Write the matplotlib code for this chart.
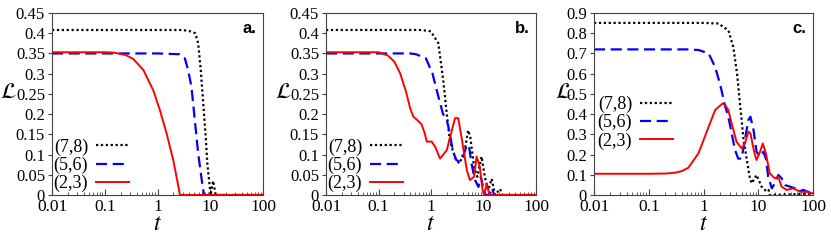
import matplotlib
matplotlib.use("Agg")
import matplotlib.pyplot as plt
from matplotlib.ticker import LogLocator, FixedLocator, NullFormatter

plt.rcParams['font.family'] = ['Liberation Serif', 'DejaVu Serif']
plt.rcParams['mathtext.fontset'] = 'stix'

# ---------------- data ----------------
labels = ["(7,8)", "(5,6)", "(2,3)"]

# panel a
a78_t = [0.01, 1.0, 3.0, 4.1, 5.2, 5.9, 6.6, 7.4, 8.2, 8.8, 9.6, 10.2, 11.3, 12.7, 100]
a78_L = [0.408, 0.408, 0.408, 0.405, 0.40, 0.375, 0.31, 0.223, 0.144, 0.078, 0.03, 0.0, 0.035, 0.0, 0.0]
a56_t = [0.01, 1.0, 2.6, 3.3, 3.8, 4.4, 5.1, 5.9, 6.9, 7.6, 100]
a56_L = [0.350, 0.350, 0.348, 0.338, 0.309, 0.268, 0.185, 0.103, 0.037, 0.0, 0.0]
a23_t = [0.01, 0.1, 0.15, 0.25, 0.35, 0.54, 0.83, 1.11, 1.49, 1.99, 2.5, 2.66, 100]
a23_L = [0.353, 0.353, 0.352, 0.346, 0.336, 0.309, 0.259, 0.21, 0.152, 0.086, 0.02, 0.0, 0.0]

# panel b
b78_t = [0.01, 0.6, 0.9, 1.0, 1.38, 1.71, 2.0, 2.28, 2.6, 3.0, 3.5, 4.4, 5.1, 5.6, 6.6,
         7.6, 9.2, 10.6, 12.3, 14.3, 16.6, 20.6, 23, 100]
b78_L = [0.408, 0.408, 0.406, 0.404, 0.375, 0.284, 0.2, 0.136, 0.11, 0.087, 0.078, 0.111,
         0.16, 0.143, 0.07, 0.045, 0.095, 0.045, 0.012, 0.04, 0.0, 0.015, 0.0, 0.0]
b56_t = [0.01, 0.4, 0.52, 0.8, 1.07, 1.19, 1.49, 1.7, 2.0, 2.28, 2.6, 3.0, 3.5, 4.1, 4.8,
         5.3, 5.9, 6.9, 8.0, 8.9, 9.8, 11.0, 13, 14.5, 16, 100]
b56_L = [0.350, 0.350, 0.348, 0.338, 0.30, 0.276, 0.227, 0.2, 0.185, 0.153, 0.11, 0.087,
         0.082, 0.095, 0.124, 0.12, 0.078, 0.037, 0.02, 0.045, 0.02, 0.0, 0.0, 0.018, 0.0, 0.0]
b23_t = [0.01, 0.1, 0.15, 0.2, 0.26, 0.335, 0.4, 0.46, 0.55, 0.66, 0.75, 0.83, 1.03,
         1.19, 1.49, 2.0, 2.5, 2.87, 3.3, 3.8, 4.8, 5.5, 6.6, 7.4, 8.5, 9.6, 10.3, 11.5,
         13, 100]
b23_L = [0.353, 0.353, 0.345, 0.33, 0.30, 0.255, 0.215, 0.194, 0.185, 0.175, 0.155,
         0.132, 0.132, 0.12, 0.09, 0.111, 0.16, 0.19, 0.19, 0.144, 0.062, 0.037, 0.045,
         0.095, 0.07, 0.012, 0.0, 0.028, 0.0, 0.0]

# panel c
c78_t = [0.01, 1.0, 1.88, 2.85, 3.5, 4.1, 4.7, 5.4, 6.2, 7.06, 7.6, 9.3, 11.5, 14.1,
         15.4, 16.2, 40, 100]
c78_L = [0.851, 0.851, 0.848, 0.814, 0.732, 0.60, 0.436, 0.271, 0.173, 0.08, 0.058,
         0.099, 0.041, 0.018, 0.025, 0.0, 0.003, 0.008]
c56_t = [0.01, 0.5, 0.81, 1.24, 1.63, 2.0, 2.5, 2.84, 3.27, 3.76, 4.3, 4.97, 5.7, 6.6,
         7.2, 8.2, 9.3, 10.8, 12.4, 13.8, 15.2, 17.7, 20.1, 23.3, 26.7, 30.9, 38.3, 47,
         54, 66, 81, 100]
c56_L = [0.72, 0.72, 0.717, 0.70, 0.633, 0.55, 0.436, 0.387, 0.305, 0.223, 0.18, 0.18,
         0.272, 0.371, 0.387, 0.321, 0.214, 0.19, 0.214, 0.18, 0.09, 0.033, 0.058, 0.099,
         0.083, 0.049, 0.041, 0.033, 0.016, 0.025, 0.016, 0.005]
c23_t = [0.01, 0.1, 0.2, 0.3, 0.4, 0.53, 0.81, 1.24, 1.63, 2.17, 2.3, 2.5, 2.84, 3.27,
         4.0, 4.97, 5.7, 6.6, 7.2, 8.4, 9.3, 10.8, 12.1, 13.8, 16.2, 20.1, 23.3, 26.7,
         33, 43.8, 58, 76, 100]
c23_L = [0.105, 0.105, 0.106, 0.11, 0.118, 0.135, 0.206, 0.337, 0.42, 0.45, 0.453,
         0.444, 0.42, 0.354, 0.264, 0.23, 0.255, 0.313, 0.305, 0.214, 0.173, 0.214, 0.255,
         0.206, 0.107, 0.082, 0.09, 0.041, 0.025, 0.033, 0.016, 0.016, 0.008]

panels = [
    ("a.", [(a78_t, a78_L), (a56_t, a56_L), (a23_t, a23_L)], 0.45,
     [0, 0.05, 0.1, 0.15, 0.2, 0.25, 0.3, 0.35, 0.4, 0.45],
     ["0", "0.05", "0.1", "0.15", "0.2", "0.25", "0.3", "0.35", "0.4", "0.45"]),
    ("b.", [(b78_t, b78_L), (b56_t, b56_L), (b23_t, b23_L)], 0.45,
     [0, 0.05, 0.1, 0.15, 0.2, 0.25, 0.3, 0.35, 0.4, 0.45],
     ["0", "0.05", "0.1", "0.15", "0.2", "0.25", "0.3", "0.35", "0.4", "0.45"]),
    ("c.", [(c78_t, c78_L), (c56_t, c56_L), (c23_t, c23_L)], 0.9,
     [0, 0.1, 0.2, 0.3, 0.4, 0.5, 0.6, 0.7, 0.8, 0.9],
     ["0", "0.1", "0.2", "0.3", "0.4", "0.5", "0.6", "0.7", "0.8", "0.9"]),
]
xticks = [0.01, 0.1, 1, 10, 100]
xticklabels = ["0.01", "0.1", "1", "10", "100"]

styles = [
    dict(color="black", linestyle=(0, (1, 1.2)), linewidth=1.6),
    dict(color="#0000ff", linestyle=(0, (5, 2.5)), linewidth=1.6),
    dict(color="#ff0000", linestyle="-", linewidth=1.4),
]

fig = plt.figure(figsize=(8.31, 2.43), dpi=100)
positions = [
    (52 / 831, 1 - 195 / 243, 211 / 831, 182 / 243),
    (326 / 831, 1 - 195 / 243, 210 / 831, 182 / 243),
    (594 / 831, 1 - 195 / 243, 219 / 831, 182 / 243),
]
ylabel_x = [-0.205, -0.205, -0.14]
legend_anchor = [(-0.01, -0.005), (-0.01, -0.005), (0.0, 0.23)]

for (tag, series, ymax, yt, ytl), pos, ylx, anc in zip(panels, positions, ylabel_x,
                                                        legend_anchor):
    ax = fig.add_axes(pos)
    for (t, L), lab, st in zip(series, labels, styles):
        ax.plot(t, L, label=lab, **st)
    ax.set_xscale("log")
    ax.set_xlim(0.01, 100)
    ax.set_ylim(0, ymax)
    ax.xaxis.set_major_locator(FixedLocator(xticks))
    ax.set_xticklabels(xticklabels)
    ax.xaxis.set_minor_locator(LogLocator(base=10, subs=range(2, 10), numticks=20))
    ax.xaxis.set_minor_formatter(NullFormatter())
    ax.set_yticks(yt)
    ax.set_yticklabels(ytl)
    ax.tick_params(axis="x", which="both", direction="in", labelsize=12.5, pad=3,
                   color="#444444")
    ax.tick_params(axis="x", which="major", length=4)
    ax.tick_params(axis="x", which="minor", length=2.5)
    ax.tick_params(axis="y", direction="out", length=3, labelsize=12, pad=2,
                   color="#444444")
    for sp in ax.spines.values():
        sp.set_color("#444444")
        sp.set_linewidth(0.8)
    ax.set_xlabel("$t$", fontsize=17, labelpad=-1)
    ax.set_ylabel(r"$\mathcal{L}$", fontsize=16, rotation=0, va="center", ha="center")
    ax.yaxis.set_label_coords(ylx, 0.56)
    ax.text(0.97, 0.955, tag, transform=ax.transAxes, ha="right", va="top",
            fontsize=12, fontweight="bold", family=["Liberation Sans", "DejaVu Sans"])
    ax.legend(loc="lower left", frameon=False, markerfirst=False, fontsize=13,
              handlelength=1.8, handletextpad=0.45, labelspacing=0.05,
              borderaxespad=0.0, borderpad=0.2, bbox_to_anchor=anc)

fig.savefig("out.png", dpi=100)
